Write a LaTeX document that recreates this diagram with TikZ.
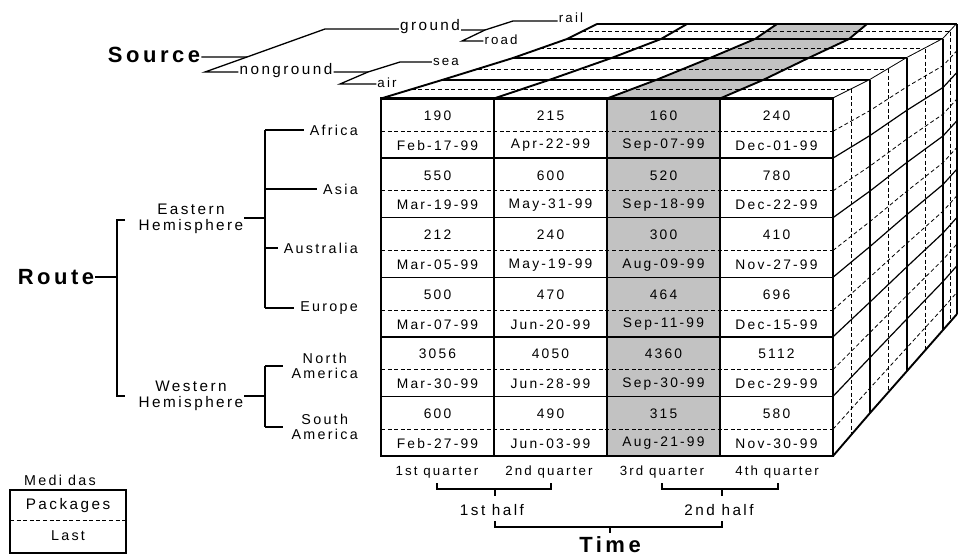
\documentclass[tikz,border=0pt]{standalone}
\usepackage{fontspec}
\setmainfont{Liberation Sans}[LetterSpace=16]
\usetikzlibrary{calc}
\definecolor{cellgray}{gray}{0.76}
\tikzset{
  border/.style={line width=2.4pt, line cap=rect},
  gridline/.style={line width=1.5pt},
  dashline/.style={line width=0.8pt, dash pattern=on 4pt off 2.6pt},
  treeline/.style={line width=1.3pt},
  cell/.style={font=\fontsize{13.8}{14}\selectfont, inner sep=0pt, anchor=center},
  small/.style={font=\fontsize{13.3}{14}\selectfont, inner sep=1pt},
  lbl/.style={font=\fontsize{15.3}{16}\selectfont, inner sep=1pt, align=center},
  rlbl/.style={font=\fontsize{14.3}{14.5}\selectfont, inner sep=1pt, align=center, anchor=east},
  big/.style={font=\bfseries\fontsize{22}{24}\selectfont, inner sep=1pt},
}
\begin{document}
\begin{tikzpicture}[x=1pt,y=-1pt]
\useasboundingbox (0,0) rectangle (960,557);
% ---------- cube geometry: front of each depth layer ----------
\foreach \i/\xl/\xr/\yt/\yb in {0/381/833/98.5/456, 1/442/870/80/413, 2/513/907/58/371, 3/567/943/39/330, 4/597/957/24/314}{
  \coordinate (tl\i) at (\xl,\yt);
  \coordinate (tr\i) at (\xr,\yt);
  \coordinate (br\i) at (\xr,\yb);
}
\coordinate (bl0) at (381,456);
\foreach \i in {0,...,3}{
  \pgfmathtruncatemacro\j{\i+1}
  \coordinate (mtl\i) at ($(tl\i)!0.5!(tl\j)$);
  \coordinate (mtr\i) at ($(tr\i)!0.5!(tr\j)$);
  \coordinate (mbr\i) at ($(br\i)!0.5!(br\j)$);
}
\foreach \i in {0,...,4}{
  \foreach \k in {0,...,4}{
    \pgfmathsetmacro\f{\k/4}
    \coordinate (c\i-\k) at ($(tl\i)!\f!(tr\i)$);
  }
  \foreach \r in {0,...,6}{
    \pgfmathsetmacro\f{\r/6}
    \coordinate (r\i-\r) at ($(tr\i)!\f!(br\i)$);
  }
  \foreach \r in {0,...,5}{
    \pgfmathsetmacro\f{(\r+0.55)/6}
    \coordinate (h\i-\r) at ($(tr\i)!\f!(br\i)$);
  }
}
% ---------- top face ----------
\fill[white] (tl0)--(tl1)--(tl2)--(tl3)--(tl4)--(tr4)--(tr3)--(tr2)--(tr1)--(tr0)--cycle;
\fill[cellgray] (c0-2)--(c1-2)--(c2-2)--(c3-2)--(c4-2)--(c4-3)--(c3-3)--(c2-3)--(c1-3)--(c0-3)--cycle;
\foreach \i in {0,...,3} \draw[dashline] (mtl\i)--(mtr\i);
\foreach \i in {1,...,4} \draw[gridline] (tl\i)--(tr\i);
\foreach \k in {0,...,4} \draw[gridline, line width=1.9pt] (c0-\k)--(c1-\k)--(c2-\k)--(c3-\k)--(c4-\k);
% ---------- right face ----------
\fill[white] (tr0)--(tr1)--(tr2)--(tr3)--(tr4)--(br4)--(br3)--(br2)--(br1)--(br0)--cycle;
\foreach \r in {0,...,5} \draw[dashline] (h0-\r)--(h1-\r)--(h2-\r)--(h3-\r)--(h4-\r);
\foreach \i in {0,...,3} \draw[dashline] (mtr\i)--(mbr\i);
\foreach \r in {1,...,5} \draw[gridline, line width=1.2pt] (r0-\r)--(r1-\r)--(r2-\r)--(r3-\r)--(r4-\r);
\foreach \i in {1,...,4} \draw[gridline, line width=2.2pt] (tr\i)--(br\i);
\draw[gridline, line width=1.9pt] (r0-6)--(r1-6)--(r2-6)--(r3-6)--(r4-6);
% ---------- front face ----------
\fill[white] (tl0) rectangle (br0);
\fill[cellgray] (c0-2) rectangle (c0-3 |- br0);
\foreach \r in {0,...,5} \draw[dashline] (tl0 |- h0-\r) -- (h0-\r);
\foreach \r in {1,...,5} \draw[gridline] (tl0 |- r0-\r) -- (r0-\r);
\draw[border] (c0-1) -- (c0-1 |- br0);
\draw[gridline] (c0-2) -- (c0-2 |- br0);
\draw[gridline] (c0-3) -- (c0-3 |- br0);
\draw[border] (tl0) rectangle (br0);
% cell texts
\foreach \r/\na/\da/\nb/\db/\nc/\dc/\nd/\dd in {
  0/190/Feb-17-99/215/Apr-22-99/160/Sep-07-99/240/Dec-01-99,
  1/550/Mar-19-99/600/May-31-99/520/Sep-18-99/780/Dec-22-99,
  2/212/Mar-05-99/240/May-19-99/300/Aug-09-99/410/Nov-27-99,
  3/500/Mar-07-99/470/Jun-20-99/464/Sep-11-99/696/Dec-15-99,
  4/3056/Mar-30-99/4050/Jun-28-99/4360/Sep-30-99/5112/Dec-29-99,
  5/600/Feb-27-99/490/Jun-03-99/315/Aug-21-99/580/Nov-30-99}{
  \pgfmathsetmacro\yn{98.5+59.58*(\r+0.29)}
  \pgfmathsetmacro\yd{98.5+59.58*(\r+0.79)}
  \node[cell] (n\r-1) at (437.5,\yn) {\na};
  \node[cell] (d\r-1) at (437.5,\yd) {\da};
  \node[cell] (n\r-2) at (550.5,\yn) {\nb};
  \node[cell] (d\r-2) at (550.5,\yd) {\db};
  \node[cell] (n\r-3) at (663.5,\yn) {\nc};
  \node[cell] (d\r-3) at (663.5,\yd) {\dc};
  \node[cell] (n\r-4) at (776.5,\yn) {\nd};
  \node[cell] (d\r-4) at (776.5,\yd) {\dd};
}
% ---------- Source tree ----------
\node[big] (source) at (154,55) {Source};
\node[lbl] (nonground) at (286,71) {nonground};
\node[lbl] (ground) at (430,27) {ground};
\node[small] (rail) at (571,18) {rail};
\node[small] (road) at (501,40) {road};
\node[small] (sea) at (446,62) {sea};
\node[small] (air) at (387,83) {air};
\coordinate (sj) at (247,57);
\coordinate (sg) at (325,29);
\coordinate (sn) at (205,72);
\draw[treeline] (source.east |- sj) -- (sj) -- (sg) -- (ground.west |- sg);
\draw[treeline] (sj) -- (sn) -- (nonground.west |- sn);
\coordinate (gj) at (485,30);
\coordinate (gr) at (513,21);
\coordinate (gd) at (462,41);
\draw[treeline] (ground.east |- gj) -- (gj) -- (gr) -- (rail.west |- gr);
\draw[treeline] (gj) -- (gd) -- (road.west |- gd);
\coordinate (nj) at (368,72);
\coordinate (ns) at (400,62);
\coordinate (na) at (340,84);
\draw[treeline] (nonground.east |- nj) -- (nj) -- (ns) -- (sea.west |- ns);
\draw[treeline] (nj) -- (na) -- (air.west |- na);
% ---------- Route tree ----------
\node[big] (route) at (56,277) {Route};
\node[lbl] (eastern) at (191,219) {Eastern\\Hemisphere};
\node[lbl] (western) at (191,396) {Western\\Hemisphere};
\node[rlbl] (africa) at (359,130) {Africa};
\node[rlbl] (asia) at (359,189) {Asia};
\node[rlbl] (australia) at (359,248) {Australia};
\node[rlbl] (europe) at (359,308) {Europe};
\node[rlbl] (nam) at (359,366) {North\\America};
\node[rlbl] (sam) at (359,427) {South\\America};
\coordinate (rj) at (117,277);
\coordinate (rt) at (117,220);
\coordinate (rb) at (117,396);
\coordinate (rte) at (125,220);
\coordinate (rbe) at (125,396);
\draw[treeline] (route.east |- rj) -- (rj);
\draw[treeline] (rte) -- (rt) -- (rb) -- (rbe);
\coordinate (ej) at (265,218);
\draw[treeline] (eastern.east |- ej) -- (ej);
\draw[treeline] (ej |- africa) -- (ej |- europe);
\draw[treeline] (ej |- africa) -- ([xshift=-5pt]africa.west);
\draw[treeline] (ej |- asia) -- ([xshift=-5pt]asia.west);
\draw[treeline] (ej |- australia) -- ([xshift=-5pt]australia.west);
\draw[treeline] (ej |- europe) -- ([xshift=-5pt]europe.west);
\coordinate (wj) at (265,396);
\draw[treeline] (western.east |- wj) -- (wj);
\draw[treeline] (wj |- nam) -- (wj |- sam);
\draw[treeline] (wj |- nam) -- ([xshift=-7pt]nam.west);
\draw[treeline] (wj |- sam) -- ([xshift=-7pt]sam.west);
% ---------- Time axis ----------
\node[small] (q1) at (437,472) {1st quarter};
\node[small] (q2) at (549,472) {2nd quarter};
\node[small] (q3) at (662,472) {3rd quarter};
\node[small] (q4) at (777,472) {4th quarter};
\node[lbl] (h1) at (492,510) {1st half};
\node[lbl] (h2) at (719,510) {2nd half};
\node[big, inner sep=0pt] (time) at (610,545) {Time};
\coordinate (b1a) at (437,483);
\coordinate (b1b) at (437,489);
\coordinate (b1c) at (551,489);
\coordinate (b1d) at (551,483);
\coordinate (b1m) at (495,489);
\coordinate (b1t) at (495,496);
\coordinate (b2a) at (662,483);
\coordinate (b2b) at (662,489);
\coordinate (b2c) at (778,489);
\coordinate (b2d) at (778,483);
\coordinate (b2m) at (722,489);
\coordinate (b2t) at (722,496);
\coordinate (b3a) at (495,521);
\coordinate (b3b) at (495,527);
\coordinate (b3c) at (722,527);
\coordinate (b3d) at (722,521);
\coordinate (b3m) at (610,527);
\coordinate (b3t) at (610,533);
\draw[treeline] (b1a) -- (b1b) -- (b1c) -- (b1d);
\draw[treeline] (b1m) -- (b1t);
\draw[treeline] (b2a) -- (b2b) -- (b2c) -- (b2d);
\draw[treeline] (b2m) -- (b2t);
\draw[treeline] (b3a) -- (b3b) -- (b3c) -- (b3d);
\draw[treeline] (b3m) -- (b3t);
% ---------- legend ----------
\node[rlbl, anchor=center] (legtitle) at (60,480) {Medi das};
\coordinate (lga) at (10,490);
\coordinate (lgb) at (126,553);
\coordinate (lgl) at (10,520);
\coordinate (lgr) at (126,520);
\draw[border] (lga) rectangle (lgb);
\draw[dashline] (lgl) -- (lgr);
\node[lbl] (packages) at (68,506) {Packages};
\node[rlbl, anchor=center] (last) at (68,536) {Last};
\end{tikzpicture}
\end{document}
